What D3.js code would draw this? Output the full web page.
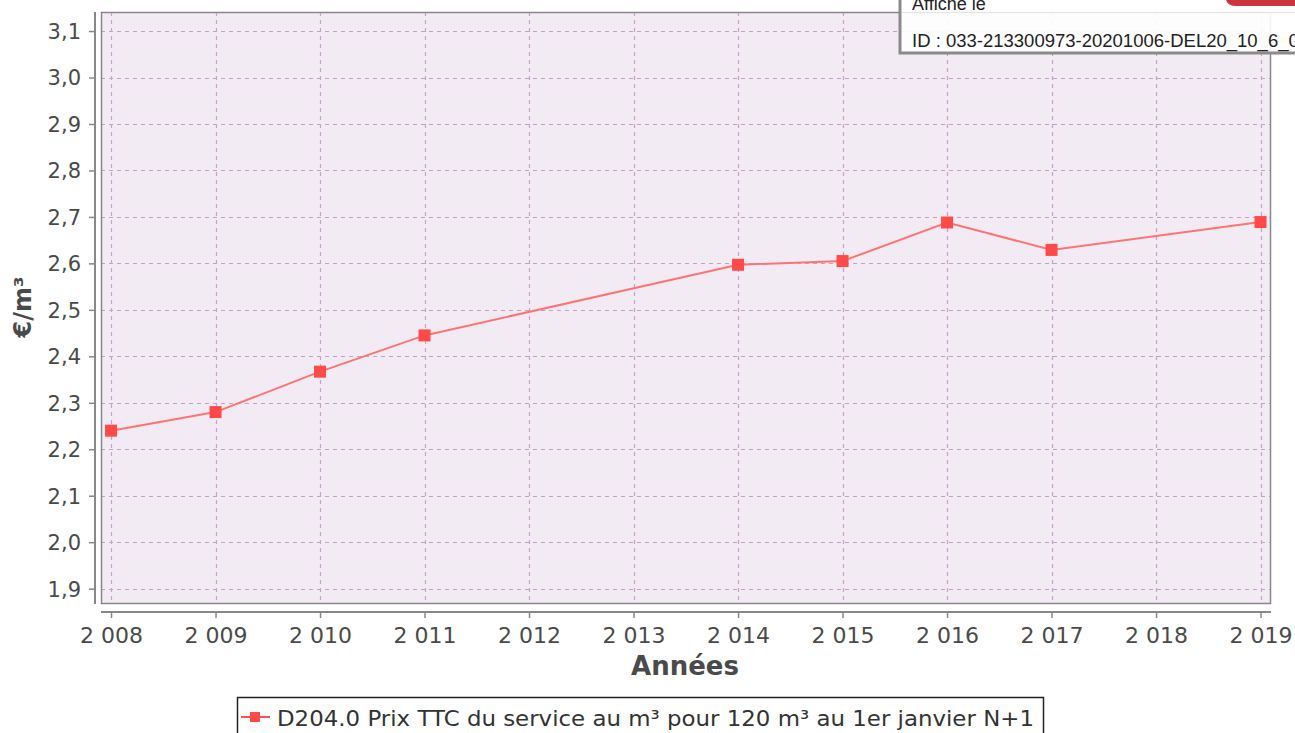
<!DOCTYPE html>
<html><head><meta charset="utf-8">
<script src="https://cdn.jsdelivr.net/npm/d3@7"></script>
<style>
html,body{margin:0;padding:0;background:#fff;overflow:hidden;}
svg{display:block;}
</style></head>
<body>
<script>
const years = [2008, 2009, 2010, 2011, 2014, 2015, 2016, 2017, 2019];
const prices = [2.24, 2.28, 2.367, 2.445, 2.597, 2.605, 2.688, 2.629, 2.689];
const xTicks = [2008, 2009, 2010, 2011, 2012, 2013, 2014, 2015, 2016, 2017, 2018, 2019];
const yTicks = [1.9, 2.0, 2.1, 2.2, 2.3, 2.4, 2.5, 2.6, 2.7, 2.8, 2.9, 3.0, 3.1];
const seriesName = "D204.0 Prix TTC du service au m³ pour 120 m³ au 1er janvier N+1";
const xTitle = "Années";
const yTitle = "€/m³";
const stampLines = ["Affiché le", "ID : 033-213300973-20201006-DEL20_10_6_0"];

const W = 1295, H = 733;
const plot = {left: 101, right: 1271, top: 12, bottom: 604};
const svg = d3.select("body").append("svg").attr("width", W).attr("height", H);

const x = d3.scaleLinear().domain([2007.904, 2019.1]).range([plot.left, plot.right]);
const y = d3.scaleLinear().domain([1.867, 3.141]).range([plot.bottom, plot.top]);

const font = "DejaVu Sans, sans-serif";
const txt = "#4a4a4a";

// plot background
svg.append("rect").attr("x", plot.left).attr("y", plot.top)
  .attr("width", plot.right - plot.left).attr("height", plot.bottom - plot.top)
  .attr("fill", "#f3ebf3");

// grid
const grid = svg.append("g").attr("stroke", "#c7a0cb").attr("stroke-width", 1.2).attr("stroke-dasharray", "4,4");
grid.selectAll("line.h").data(yTicks).join("line")
  .attr("x1", plot.left).attr("x2", plot.right)
  .attr("y1", d => Math.round(y(d)) + 0.5).attr("y2", d => Math.round(y(d)) + 0.5);
grid.selectAll("line.v").data(xTicks).join("line")
  .attr("y1", plot.top).attr("y2", plot.bottom)
  .attr("x1", d => Math.round(x(d)) + 0.5).attr("x2", d => Math.round(x(d)) + 0.5);

// plot border
svg.append("rect").attr("x", plot.left + 0.5).attr("y", plot.top + 0.5)
  .attr("width", plot.right - plot.left - 1).attr("height", plot.bottom - plot.top - 1)
  .attr("fill", "none").attr("stroke", "#888").attr("stroke-width", 1.5);

// axes
const yAxis = d3.axisLeft(y).tickValues(yTicks).tickSize(6).tickPadding(8)
  .tickFormat(d => d3.format(".1f")(d).replace(".", ","));
const gy = svg.append("g").attr("transform", `translate(95,0)`).call(yAxis);
gy.select(".domain").attr("d", `M0,${plot.top}V${plot.bottom}`).attr("stroke", "#888").attr("stroke-width", 2);
gy.selectAll(".tick line").attr("stroke", "#888").attr("stroke-width", 1.5);
gy.selectAll(".tick text").attr("font-family", font).attr("font-size", 21).attr("fill", txt).attr("dy", "0.35em");

const xAxis = d3.axisBottom(x).tickValues(xTicks).tickSize(6).tickPadding(5)
  .tickFormat(d => String(d).replace(/^(\d)(\d{3})$/, "$1 $2"));
const gx = svg.append("g").attr("transform", `translate(0,612)`).call(xAxis);
gx.select(".domain").attr("d", `M${plot.left},0H${plot.right}`).attr("stroke", "#888").attr("stroke-width", 2);
gx.selectAll(".tick line").attr("stroke", "#888").attr("stroke-width", 1.5);
gx.selectAll(".tick text").attr("font-family", font).attr("font-size", 22).attr("fill", txt).attr("dy", "0.9em");

// titles
svg.append("text").attr("x", 685).attr("y", 675).attr("text-anchor", "middle")
  .attr("font-family", font).attr("font-weight", "bold").attr("font-size", 26).attr("fill", txt).text(xTitle);
svg.append("text").attr("transform", `translate(31,307) rotate(-90)`).attr("text-anchor", "middle")
  .attr("font-family", font).attr("font-weight", "bold").attr("font-size", 24).attr("fill", txt).text(yTitle);

// line + markers
const line = d3.line().x((d, i) => x(years[i])).y(d => y(d));
svg.append("path").datum(prices).attr("d", line).attr("fill", "none")
  .attr("stroke", "#ff7373").attr("stroke-width", 2);
svg.selectAll("rect.pt").data(prices).join("rect").attr("class", "pt")
  .attr("x", (d, i) => x(years[i]) - 6).attr("y", d => y(d) - 6)
  .attr("width", 12).attr("height", 12).attr("fill", "#ff4a4a");

// legend
const lg = svg.append("g");
lg.append("rect").attr("x", 237.5).attr("y", 697.5).attr("width", 806).attr("height", 50)
  .attr("fill", "#fff").attr("stroke", "#222").attr("stroke-width", 1.5);
lg.append("line").attr("x1", 241).attr("x2", 270).attr("y1", 717).attr("y2", 717)
  .attr("stroke", "#ff5050").attr("stroke-width", 2);
lg.append("rect").attr("x", 250).attr("y", 712).attr("width", 10).attr("height", 10).attr("fill", "#ff4a4a");
lg.append("text").attr("x", 277).attr("y", 726).attr("font-family", font)
  .attr("font-size", 22).attr("fill", "#333")
  .attr("textLength", 757).attr("lengthAdjust", "spacingAndGlyphs").text(seriesName);

// stamp overlay
const st = svg.append("g");
st.append("rect").attr("x", 900).attr("y", -10).attr("width", 420).attr("height", 63)
  .attr("fill", "#ffffff").attr("fill-opacity", 0.9).attr("stroke", "#8a8a8a").attr("stroke-width", 3);
st.append("rect").attr("x", 903).attr("y", 12).attr("width", 420).attr("height", 1)
  .attr("fill", "#e4e4e4");
st.append("text").attr("x", 912).attr("y", 10).attr("font-family", "Liberation Sans, Arial, sans-serif")
  .attr("font-size", 18).attr("fill", "#222").text(stampLines[0]);
st.append("text").attr("x", 912).attr("y", 47).attr("font-family", "Liberation Sans, Arial, sans-serif")
  .attr("font-size", 18.5).attr("fill", "#222").text(stampLines[1]);
st.append("path").attr("d", "M1226,0H1295V6H1236Q1228,6,1226,0Z").attr("fill", "#cc3540");
</script>
</body></html>
